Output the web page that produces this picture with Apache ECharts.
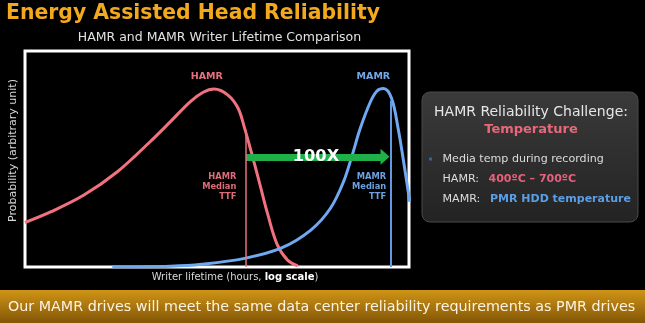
<!DOCTYPE html>
<html>
<head>
<meta charset="utf-8">
<script src="https://cdn.jsdelivr.net/npm/echarts@6/dist/echarts.min.js"></script>
<style>
html,body{margin:0;padding:0;background:#000;}
#chart{width:645px;height:323px;}
</style>
</head>
<body>
<div id="chart"></div>
<script>
// x = log10(writer lifetime, hours) position; y = probability (arbitrary unit)
const hamrX = [0, 0.36, 0.81, 1.27, 1.72, 2.00, 2.27, 2.45, 2.60, 2.79, 2.93, 3.02, 3.11, 3.22, 3.34, 3.47, 3.61, 3.75];
const hamrY = [20.6, 25.6, 33.3, 44.1, 58.0, 67.3, 76.5, 80.9, 82.4, 79.6, 73.5, 64.2, 53.4, 39.5, 24.1, 10.2, 3.2, 0.5];
const mamrX = [1.2, 2.0, 2.43, 3.02, 3.52, 3.93, 4.20, 4.38, 4.50, 4.61, 4.75, 4.84, 4.93, 5.04, 5.13, 5.22, 5.29];
const mamrY = [0, 0.4, 1.3, 4.0, 8.7, 17.1, 27.2, 39.5, 51.9, 64.2, 76.5, 81.5, 82.6, 78.1, 64.2, 45.7, 30.2];
const medianX = [3.03, 5.03];          // HAMR, MAMR median TTF
const medianTop = [63.5, 77.0];
const seriesNames = ['HAMR', 'MAMR'];
const ratioLabel = '100X';

const FONT = 'DejaVu Sans';
const PINK = '#f2717f', BLUE = '#6fa9f2';

const zip = (xs, ys) => xs.map((x, i) => [x, ys[i]]);

const chart = echarts.init(document.getElementById('chart'), null, {renderer: 'canvas'});
chart.setOption({
  animation: false,
  backgroundColor: '#000',
  grid: {left: 22, top: 51, width: 387, height: 216, show: true, borderColor: '#ffffff', borderWidth: 3, backgroundColor: 'transparent'},
  xAxis: {
    type: 'value', min: 0, max: 5.28,
    axisLine: {show: false}, axisTick: {show: false}, axisLabel: {show: false}, splitLine: {show: false},
    name: 'Writer lifetime (hours, {b|log scale})',
    nameLocation: 'middle', nameGap: 5,
    nameTextStyle: {color: '#d8d8d8', fontFamily: FONT, fontSize: 10, padding: [0, 0, 0, 36],
      rich: {b: {fontWeight: 'bold', color: '#ffffff', fontFamily: FONT, fontSize: 10}}}
  },
  yAxis: {
    type: 'value', min: 0, max: 100,
    axisLine: {show: false}, axisTick: {show: false}, axisLabel: {show: false}, splitLine: {show: false},
    name: 'Probability (arbitrary unit)',
    nameLocation: 'middle', nameGap: 6,
    nameTextStyle: {color: '#d8d8d8', fontFamily: FONT, fontSize: 11, padding: [0, 0, 0, 17]}
  },
  series: [
    {
      name: 'arrow', type: 'line', data: [], silent: true, z: 1,
      markLine: {
        silent: true, animation: false,
        symbol: ['none', 'triangle'], symbolSize: [16, 9],
        lineStyle: {color: '#20b04a', width: 7, type: 'solid'},
        itemStyle: {color: '#20b04a'},
        label: {show: false},
        data: [[{coord: [3.04, 51]}, {coord: [4.95, 51]}]]
      }
    },
    {
      name: seriesNames[0], type: 'line', data: zip(hamrX, hamrY), smooth: 0.35,
      showSymbol: false, z: 3, lineStyle: {color: PINK, width: 3},
      markLine: {
        silent: true, animation: false, symbol: 'none',
        lineStyle: {color: '#e8707e', width: 1.5, type: 'solid'}, label: {show: false},
        data: [[{coord: [medianX[0], 0]}, {coord: [medianX[0], medianTop[0]]}]]
      },
      markPoint: {
        silent: true, animation: false, symbol: 'circle', symbolSize: 0,
        data: [
          {coord: [2.50, 88], label: {show: true, position: 'inside', formatter: seriesNames[0],
            color: '#e6707c', fontFamily: FONT, fontWeight: 'bold', fontSize: 9.5}},
          {coord: [2.906, 37.3], label: {show: true, position: 'left', distance: 0, align: 'right',
            formatter: 'HAMR\nMedian\nTTF', color: '#e06c78', fontFamily: FONT, fontWeight: 'bold',
            fontSize: 8.3, lineHeight: 10}}
        ]
      }
    },
    {
      name: seriesNames[1], type: 'line', data: zip(mamrX, mamrY), smooth: 0.35,
      showSymbol: false, z: 3, lineStyle: {color: BLUE, width: 3},
      markLine: {
        silent: true, animation: false, symbol: 'none',
        lineStyle: {color: '#5f9ae2', width: 2, type: 'solid'}, label: {show: false},
        data: [[{coord: [medianX[1], 0]}, {coord: [medianX[1], medianTop[1]]}]]
      },
      markPoint: {
        silent: true, animation: false, symbol: 'circle', symbolSize: 0,
        data: [
          {coord: [4.79, 88.4], label: {show: true, position: 'inside', formatter: seriesNames[1],
            color: '#72a8e6', fontFamily: FONT, fontWeight: 'bold', fontSize: 9.5}},
          {coord: [4.966, 37.3], label: {show: true, position: 'left', distance: 0, align: 'right',
            formatter: 'MAMR\nMedian\nTTF', color: '#6ca2e0', fontFamily: FONT, fontWeight: 'bold',
            fontSize: 8.3, lineHeight: 10}}
        ]
      }
    },
    {
      name: 'ratio', type: 'line', data: [], silent: true, z: 5,
      markPoint: {
        silent: true, animation: false, symbol: 'circle', symbolSize: 0, z: 10,
        data: [{coord: [4.0, 51], label: {show: true, position: 'inside', formatter: ratioLabel,
          color: '#ffffff', fontFamily: FONT, fontWeight: 'bold', fontSize: 16.3}}]
      }
    }
  ],
  graphic: [
    {type: 'text', left: null, x: 6, y: 14, style: {text: 'Energy Assisted Head Reliability',
      fill: '#f2a91e', font: 'bold 20.4px "DejaVu Sans"', textVerticalAlign: 'middle', textAlign: 'left'}},
    {type: 'text', x: 219.5, y: 38, style: {text: 'HAMR and MAMR Writer Lifetime Comparison',
      fill: '#e2e2e2', font: '12.5px "DejaVu Sans"', textVerticalAlign: 'middle', textAlign: 'center'}},
    {type: 'rect', shape: {x: 422, y: 92, width: 216, height: 130, r: 8},
      style: {fill: new echarts.graphic.LinearGradient(0, 0, 0, 1, [
        {offset: 0, color: '#3a3a3a'}, {offset: 1, color: '#232323'}]), stroke: '#4a4a4a', lineWidth: 1}},
    {type: 'text', x: 531, y: 112, style: {text: 'HAMR Reliability Challenge:',
      fill: '#e6e6e6', font: '14px "DejaVu Sans"', textVerticalAlign: 'middle', textAlign: 'center'}},
    {type: 'text', x: 531, y: 130, style: {text: 'Temperature',
      fill: '#e8687a', font: 'bold 13px "DejaVu Sans"', textVerticalAlign: 'middle', textAlign: 'center'}},
    {type: 'rect', shape: {x: 429, y: 157.5, width: 3, height: 3}, style: {fill: '#2f64a8'}},
    {type: 'text', x: 442.5, y: 159, style: {text: 'Media temp during recording',
      fill: '#dddddd', font: '11.1px "DejaVu Sans"', textVerticalAlign: 'middle', textAlign: 'left'}},
    {type: 'text', x: 442.5, y: 179.5, style: {text: 'HAMR:',
      fill: '#dddddd', font: '11.1px "DejaVu Sans"', textVerticalAlign: 'middle', textAlign: 'left'}},
    {type: 'text', x: 488.5, y: 179.5, style: {text: '400ºC – 700ºC',
      fill: '#e8607a', font: 'bold 11px "DejaVu Sans"', textVerticalAlign: 'middle', textAlign: 'left'}},
    {type: 'text', x: 442.5, y: 199, style: {text: 'MAMR:',
      fill: '#dddddd', font: '11.1px "DejaVu Sans"', textVerticalAlign: 'middle', textAlign: 'left'}},
    {type: 'text', x: 490, y: 199, style: {text: 'PMR HDD temperature',
      fill: '#5a9ee6', font: 'bold 11px "DejaVu Sans"', textVerticalAlign: 'middle', textAlign: 'left'}},
    {type: 'rect', shape: {x: 0, y: 290, width: 645, height: 33},
      style: {fill: new echarts.graphic.LinearGradient(0, 0, 0, 1, [
        {offset: 0, color: '#cf9416'}, {offset: 1, color: '#835606'}])}},
    {type: 'text', x: 8, y: 307, style: {text: 'Our MAMR drives will meet the same data center reliability requirements as PMR drives',
      fill: '#fbf3e2', font: '14.3px "DejaVu Sans"', textVerticalAlign: 'middle', textAlign: 'left'}}
  ]
});
</script>
</body>
</html>
